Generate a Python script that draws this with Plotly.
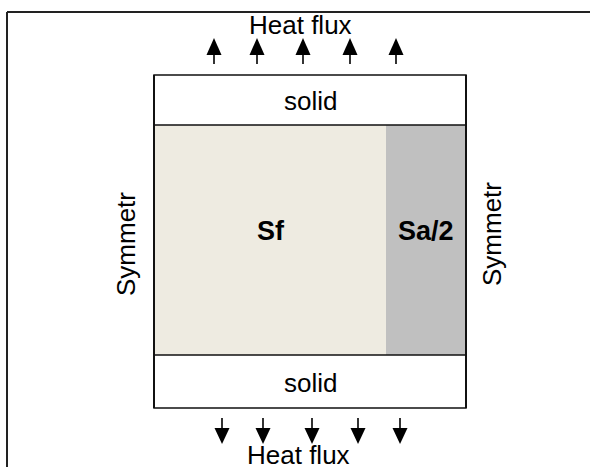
import plotly.graph_objects as go

W, H = 590, 467

# Geometry of the diagram (pixel units)
box_left, box_right = 154, 466
solid_top = [75, 125]
fluid = [125, 355]
solid_bot = [355, 408]
sa_left = 386

up_arrow_x = [214, 257, 303, 350, 396]
down_arrow_x = [222, 263, 312, 358, 400]

labels = ["Heat flux", "solid", "Sf", "Sa/2", "solid", "Heat flux", "Symmetr", "Symmetr"]

FONT = "Liberation Sans, Arial, sans-serif"

fig = go.Figure()
shapes = []
# frame (top and left only)
shapes.append(dict(type="line", x0=7, y0=12, x1=W + 5, y1=12, line=dict(color="#222", width=2)))
shapes.append(dict(type="line", x0=7, y0=12, x1=7, y1=H + 5, line=dict(color="#222", width=2)))
# fluid region
shapes.append(dict(type="rect", x0=box_left, x1=sa_left, y0=fluid[0], y1=fluid[1],
                   fillcolor="#EEEBE1", line=dict(width=0)))
shapes.append(dict(type="rect", x0=sa_left, x1=box_right, y0=fluid[0], y1=fluid[1],
                   fillcolor="#C0C0C0", line=dict(width=0)))
# solids
shapes.append(dict(type="rect", x0=box_left, x1=box_right, y0=solid_top[0], y1=solid_top[1],
                   fillcolor="white", line=dict(color="#111", width=1.5)))
shapes.append(dict(type="rect", x0=box_left, x1=box_right, y0=solid_bot[0], y1=solid_bot[1],
                   fillcolor="white", line=dict(color="#111", width=1.5)))
# side borders
shapes.append(dict(type="line", x0=box_left, x1=box_left, y0=solid_top[0], y1=solid_bot[1],
                   line=dict(color="#111", width=2)))
shapes.append(dict(type="line", x0=box_right, x1=box_right, y0=solid_top[0], y1=solid_bot[1],
                   line=dict(color="#111", width=2)))

# arrows
hw = 7.5
for x in up_arrow_x:
    shapes.append(dict(type="line", x0=x, x1=x, y0=50, y1=64, line=dict(color="black", width=1.6)))
    shapes.append(dict(type="path", path=f"M {x - hw},55 L {x + hw},55 L {x},38 Z",
                       fillcolor="black", line=dict(width=0)))
for x in down_arrow_x:
    shapes.append(dict(type="line", x0=x, x1=x, y0=418, y1=432, line=dict(color="black", width=1.6)))
    shapes.append(dict(type="path", path=f"M {x - hw},428 L {x + hw},428 L {x},444 Z",
                       fillcolor="black", line=dict(width=0)))

ann = [
    dict(x=300, y=25, text=labels[0], size=26, bold=False, angle=0),
    dict(x=310, y=101, text=labels[1], size=26, bold=False, angle=0),
    dict(x=271, y=231, text=labels[2], size=27, bold=True, angle=0),
    dict(x=426, y=231, text=labels[3], size=27, bold=True, angle=0),
    dict(x=310, y=383, text=labels[4], size=26, bold=False, angle=0),
    dict(x=298, y=455, text=labels[5], size=26, bold=False, angle=0),
    dict(x=126, y=244, text=labels[6], size=26, bold=False, angle=-90),
    dict(x=492, y=234, text=labels[7], size=26, bold=False, angle=-90),
]
annotations = []
for a in ann:
    t = f"<b>{a['text']}</b>" if a["bold"] else a["text"]
    annotations.append(dict(x=a["x"], y=a["y"], xref="x", yref="y", text=t, showarrow=False,
                            textangle=a["angle"], xanchor="center", yanchor="middle",
                            font=dict(family=FONT, size=a["size"], color="black")))

fig.update_layout(
    width=W, height=H, margin=dict(l=0, r=0, t=0, b=0),
    paper_bgcolor="white", plot_bgcolor="white",
    shapes=shapes, annotations=annotations, showlegend=False,
    xaxis=dict(range=[0, W], visible=False, fixedrange=True),
    yaxis=dict(range=[H, 0], visible=False, fixedrange=True),
)
fig.write_html("out.html", config={"displayModeBar": False},
               post_script="document.body.style.margin='0';document.body.style.overflow='hidden';")
